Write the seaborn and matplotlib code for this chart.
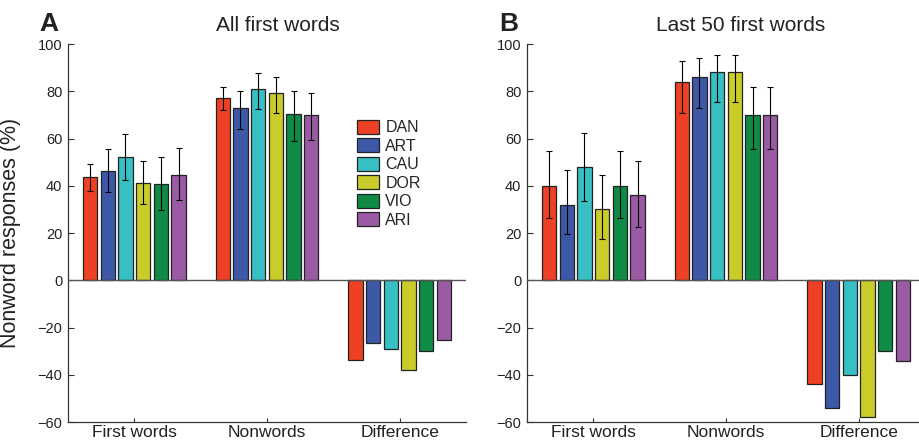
import numpy as np
import pandas as pd
import matplotlib
matplotlib.use('Agg')
import matplotlib.pyplot as plt
import seaborn as sns

# data
monkeys = ['DAN', 'ART', 'CAU', 'DOR', 'VIO', 'ARI']
conditions = ['First words', 'Nonwords', 'Difference']
colors = ['#EE4024', '#3D58A7', '#38BFC3', '#CACC2A', '#0F8B45', '#9B5BA4']

# panel A: all first words
a_first = [43.5, 46.2, 52.1, 41.1, 40.7, 44.6]
a_first_lo = [37.8, 37.3, 42.4, 32.3, 29.8, 33.9]
a_first_hi = [49.3, 55.4, 61.7, 50.4, 52.1, 55.8]
a_non = [77.0, 72.7, 80.9, 79.2, 70.2, 69.9]
a_non_lo = [72.0, 64.0, 72.4, 70.9, 59.0, 59.3]
a_non_hi = [81.6, 80.2, 87.8, 86.0, 79.9, 79.4]
a_diff = [-33.9, -26.7, -28.9, -38.1, -29.8, -25.4]

# panel B: last 50 first words
b_first = [40, 32, 48, 30, 40, 36]
b_first_lo = [26.3, 19.5, 33.5, 17.6, 26.3, 22.7]
b_first_hi = [54.6, 46.5, 62.4, 44.5, 54.6, 50.5]
b_non = [84, 86, 88, 88, 70, 70]
b_non_lo = [70.7, 73.1, 75.5, 75.5, 55.4, 55.4]
b_non_hi = [92.6, 94.0, 95.3, 95.3, 82.0, 82.0]
b_diff = [-44, -54, -40, -58, -30, -34]

sns.set_style('ticks')
plt.rcParams['font.family'] = ['Liberation Sans', 'DejaVu Sans']


def make_df(first, non, diff):
    rows = []
    for i, m in enumerate(monkeys):
        rows.append({'cond': 'First words', 'monkey': m, 'value': first[i]})
        rows.append({'cond': 'Nonwords', 'monkey': m, 'value': non[i]})
        rows.append({'cond': 'Difference', 'monkey': m, 'value': diff[i]})
    return pd.DataFrame(rows)


def draw_panel(ax, df, lo_first, hi_first, lo_non, hi_non, legend):
    sns.barplot(data=df, x='cond', y='value', hue='monkey', order=conditions,
                hue_order=monkeys, palette=colors, errorbar=None, width=0.8,
                gap=0.18, edgecolor='#222222', linewidth=0.9, saturation=1,
                legend=legend, ax=ax)
    los = [lo_first, lo_non]
    his = [hi_first, hi_non]
    bar_conts = list(ax.containers)
    for h, cont in enumerate(bar_conts):
        for c in range(2):
            bar = cont.patches[c]
            xc = bar.get_x() + bar.get_width() / 2
            val = bar.get_height()
            ax.errorbar(xc, val, yerr=[[val - los[c][h]], [his[c][h] - val]],
                        fmt='none', ecolor='black', elinewidth=0.8,
                        capsize=2.2, capthick=0.8, zorder=5)
    ax.axhline(0, color='#555555', lw=1.0, zorder=4)
    ax.set_xlim(-0.5, 2.5)
    ax.set_ylim(-60, 100)
    ax.set_yticks(np.arange(-60, 101, 20))
    ax.set_xlabel('')
    ax.set_ylabel('')
    sns.despine(ax=ax)
    for s in ['left', 'bottom']:
        ax.spines[s].set_color('#333333')
        ax.spines[s].set_linewidth(0.9)
    ax.tick_params(axis='y', direction='in', length=4, width=0.8,
                   labelsize=10.5, pad=4, colors='#333333', labelcolor='#222222')
    ax.tick_params(axis='x', direction='in', length=3, width=0.8,
                   labelsize=12.5, pad=2, colors='#333333', labelcolor='#222222')


fig = plt.figure(figsize=(9.2, 4.43), dpi=100)
ax_a = fig.add_axes([68 / 920, 21 / 443, 398 / 920, 378 / 443])
ax_b = fig.add_axes([527 / 920, 21 / 443, 398 / 920, 378 / 443])

draw_panel(ax_a, make_df(a_first, a_non, a_diff), a_first_lo, a_first_hi,
           a_non_lo, a_non_hi, True)
draw_panel(ax_b, make_df(b_first, b_non, b_diff), b_first_lo, b_first_hi,
           b_non_lo, b_non_hi, False)

handles, labels = ax_a.get_legend_handles_labels()
ax_a.legend(handles, labels, loc='upper left', bbox_to_anchor=(0.725, 0.80),
            frameon=False, fontsize=11.5, handlelength=1.4, handleheight=1.0,
            labelspacing=0.18, handletextpad=0.4, borderpad=0, borderaxespad=0)

ax_a.set_ylabel('Nonword responses (%)', fontsize=15.5, color='#222222')
ax_a.yaxis.set_label_coords(-0.118, 0.5)

fig.text(39 / 920, 1 - 31 / 443, 'A', fontsize=19, fontweight='bold',
         va='baseline', color='#222222')
fig.text(499 / 920, 1 - 31 / 443, 'B', fontsize=19, fontweight='bold',
         va='baseline', color='#222222')
fig.text(278 / 920, 1 - 31 / 443, 'All first words', fontsize=15,
         ha='center', va='baseline', color='#222222')
fig.text(741 / 920, 1 - 31 / 443, 'Last 50 first words', fontsize=15,
         ha='center', va='baseline', color='#222222')

fig.savefig('out.png', dpi=100)
